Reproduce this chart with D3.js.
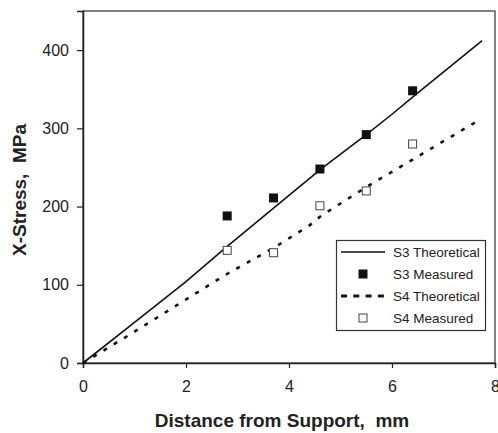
<!DOCTYPE html>
<html>
<head>
<meta charset="utf-8">
<script src="https://cdn.jsdelivr.net/npm/d3@7/dist/d3.min.js"></script>
<style>
  body { margin: 0; background: #fff; }
  text { font-family: "Liberation Sans", Arial, sans-serif; fill: #222; }
</style>
</head>
<body>
<div class="content"></div>
<script>
(function() {

  // Data
  var s3TheoryX = [0, 1, 2, 2.8, 3.5, 4.6, 5.5, 6, 6.4, 7.75];
  var s3TheoryY = [0, 52, 104, 149, 187, 247, 292, 318, 340, 412];
  var s3MeasX = [2.8, 3.7, 4.6, 5.5, 6.4];
  var s3MeasY = [188, 211, 248, 292, 348];
  var s4TheoryX = [0, 1, 2.14, 2.8, 3.7, 4.4, 4.6, 5.5, 6.4, 7.7];
  var s4TheoryY = [0, 40, 87, 114, 147, 176, 187, 225, 260, 311];
  var s4MeasX = [2.8, 3.7, 4.6, 5.5, 6.4];
  var s4MeasY = [144, 141, 201, 220, 280];
  var xTicks = [0, 2, 4, 6, 8];
  var yTicks = [0, 100, 200, 300, 400];
  var legendLabels = ["S3 Theoretical", "S3 Measured", "S4 Theoretical", "S4 Measured"];

  // Design Variables
  var width = 498;
  var height = 433;
  var margin = {top: 11, right: 3, bottom: 70, left: 83};
  var plotW = width - margin.left - margin.right;
  var plotH = height - margin.top - margin.bottom;
  var markerSize = 9;

  function zip(xs, ys) {
    return xs.map(function(x, i) { return {x: x, y: ys[i]}; });
  }

  var x = d3.scaleLinear().domain([0, 8]).range([0, plotW]);
  var y = d3.scaleLinear().domain([0, 450]).range([plotH, 0]);

  var svg = d3.select(".content").append("svg")
      .attr("width", width)
      .attr("height", height);

  var chart = svg.append("g")
      .attr("transform", "translate(" + margin.left + "," + margin.top + ")");

  // Frame
  chart.append("rect")
      .attr("x", 0).attr("y", 0)
      .attr("width", plotW).attr("height", plotH)
      .attr("fill", "none")
      .attr("stroke", "#333")
      .attr("stroke-width", 1.2);

  // Axes
  var xAxis = chart.append("g")
      .attr("transform", "translate(0," + plotH + ")")
      .call(d3.axisBottom(x).tickValues(xTicks).tickSize(5).tickPadding(13).tickFormat(d3.format("d")));
  var yAxis = chart.append("g")
      .call(d3.axisLeft(y).tickValues(yTicks).tickSize(6).tickPadding(8).tickFormat(d3.format("d")));

  [xAxis, yAxis].forEach(function(a) {
    a.select(".domain").attr("stroke", "#222").attr("stroke-width", 1.5);
    a.selectAll(".tick line").attr("stroke", "#222").attr("stroke-width", 1.2);
    a.selectAll(".tick text")
      .style("font-family", "Liberation Sans, Arial, sans-serif")
      .style("font-size", "16px")
      .attr("fill", "#222");
  });

  // Axis titles
  svg.append("text")
      .attr("x", margin.left + plotW / 2 - 7)
      .attr("y", 427)
      .attr("text-anchor", "middle")
      .style("font-size", "19px")
      .style("font-weight", "bold")
      .style("white-space", "pre")
      .text("Distance from Support,  mm");

  svg.append("text")
      .attr("transform", "translate(26," + (margin.top + plotH / 2 + 3) + ") rotate(-90)")
      .attr("text-anchor", "middle")
      .style("font-size", "19px")
      .style("font-weight", "bold")
      .style("white-space", "pre")
      .text("X-Stress,  MPa");

  var line = d3.line()
      .x(function(d) { return x(d.x); })
      .y(function(d) { return y(d.y); });

  // Theoretical lines
  chart.append("path")
      .datum(zip(s3TheoryX, s3TheoryY))
      .attr("d", line)
      .attr("fill", "none")
      .attr("stroke", "#111")
      .attr("stroke-width", 1.6);

  chart.append("path")
      .datum(zip(s4TheoryX, s4TheoryY))
      .attr("d", line)
      .attr("fill", "none")
      .attr("stroke", "#111")
      .attr("stroke-width", 2.6)
      .attr("stroke-dasharray", "4,8");

  // Measured points
  chart.selectAll(".s3pt")
      .data(zip(s3MeasX, s3MeasY))
      .enter()
      .append("rect")
      .attr("class", "s3pt")
      .attr("x", function(d) { return x(d.x) - markerSize / 2; })
      .attr("y", function(d) { return y(d.y) - markerSize / 2; })
      .attr("width", markerSize)
      .attr("height", markerSize)
      .attr("fill", "#111");

  chart.selectAll(".s4pt")
      .data(zip(s4MeasX, s4MeasY))
      .enter()
      .append("rect")
      .attr("class", "s4pt")
      .attr("x", function(d) { return x(d.x) - markerSize / 2 + 0.5; })
      .attr("y", function(d) { return y(d.y) - markerSize / 2 + 0.5; })
      .attr("width", markerSize - 1)
      .attr("height", markerSize - 1)
      .attr("fill", "#fff")
      .attr("stroke", "#444")
      .attr("stroke-width", 1);

  // Legend
  var legend = svg.append("g")
      .attr("transform", "translate(336,240)");

  legend.append("rect")
      .attr("x", 0.5).attr("y", 0.5)
      .attr("width", 149).attr("height", 90)
      .attr("fill", "#fff")
      .attr("stroke", "#333")
      .attr("stroke-width", 1.2);

  var rowY = d3.scalePoint().domain(legendLabels).range([12, 78]);

  legendLabels.forEach(function(label, i) {
    var ry = rowY(label);
    var g = legend.append("g");
    if (i === 0 || i === 2) {
      g.append("line")
        .attr("x1", 5).attr("x2", 49)
        .attr("y1", ry).attr("y2", ry)
        .attr("stroke", "#111")
        .attr("stroke-width", i === 0 ? 1.6 : 2.8)
        .attr("stroke-dasharray", i === 0 ? null : "6,6.3");
    } else if (i === 1) {
      g.append("rect")
        .attr("x", 27 - markerSize / 2).attr("y", ry - markerSize / 2)
        .attr("width", markerSize).attr("height", markerSize)
        .attr("fill", "#111");
    } else {
      g.append("rect")
        .attr("x", 27 - markerSize / 2 + 0.5).attr("y", ry - markerSize / 2 + 0.5)
        .attr("width", markerSize - 1).attr("height", markerSize - 1)
        .attr("fill", "#fff")
        .attr("stroke", "#444");
    }
    g.append("text")
      .attr("x", 57)
      .attr("y", ry + 5)
      .style("font-size", "13.5px")
      .text(label);
  });

})();
</script>
</body>
</html>
